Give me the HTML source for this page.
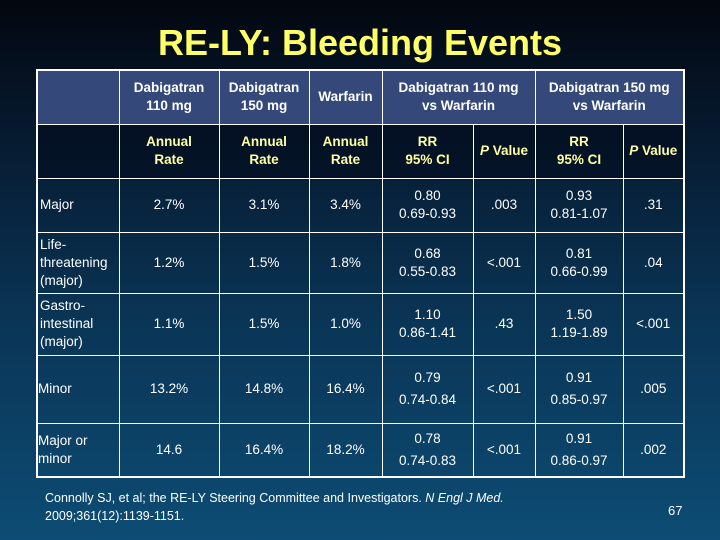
<!DOCTYPE html>
<html><head><meta charset="utf-8">
<style>
html,body{margin:0;padding:0}
body{width:720px;height:540px;overflow:hidden;position:relative;font-family:"Liberation Sans",sans-serif;
background:linear-gradient(180deg,#03070f 0%,#061a30 25%,#0a3556 60%,#0d4c74 100%);}
#title{position:absolute;left:0;width:720px;top:22px;text-align:center;color:#ffff66;font-weight:bold;font-size:36px;margin:0}
table{position:absolute;left:36px;top:69px;border-collapse:collapse;border:2px solid #fff;table-layout:fixed;color:#fff}
td{border:1.5px solid #fff;text-align:center;vertical-align:middle;font-size:13.5px;line-height:18px;padding:0;overflow:hidden}
tr.h1 td{background:#34497a;font-weight:bold;font-size:13.5px}
tr.h2 td{color:#ffffa0;font-weight:bold;font-size:13.5px;background:rgba(4,12,28,0.6)}
td.lab{text-align:left;padding-left:2px}
.foot{position:absolute;left:45px;top:489px;color:#fff;font-size:12.5px;line-height:18px}
.pg{position:absolute;left:668px;top:503px;color:#fff;font-size:13px}
</style></head><body>
<h1 id="title">RE-LY: Bleeding Events</h1>
<table>
<colgroup><col style="width:82px"><col style="width:100px"><col style="width:90px"><col style="width:73px"><col style="width:91px"><col style="width:62px"><col style="width:88px"><col style="width:61px"></colgroup>
<tr class="h1" style="height:54px">
<td></td><td>Dabigatran<br>110 mg</td><td>Dabigatran<br>150 mg</td><td>Warfarin</td><td colspan="2">Dabigatran 110 mg<br>vs Warfarin</td><td colspan="2">Dabigatran 150 mg<br>vs Warfarin</td></tr>
<tr class="h2" style="height:54px">
<td></td><td>Annual<br>Rate</td><td>Annual<br>Rate</td><td>Annual<br>Rate</td><td>RR<br>95% CI</td><td><i>P</i> Value</td><td>RR<br>95% CI</td><td><i>P</i> Value</td></tr>
<tr style="height:54px">
<td class="lab">Major</td><td>2.7%</td><td>3.1%</td><td>3.4%</td><td>0.80<br>0.69-0.93</td><td>.003</td><td>0.93<br>0.81-1.07</td><td>.31</td></tr>
<tr style="height:61px">
<td class="lab">Life-<br>threatening<br>(major)</td><td>1.2%</td><td>1.5%</td><td>1.8%</td><td>0.68<br>0.55-0.83</td><td>&lt;.001</td><td>0.81<br>0.66-0.99</td><td>.04</td></tr>
<tr style="height:62px">
<td class="lab">Gastro-<br>intestinal<br>(major)</td><td>1.1%</td><td>1.5%</td><td>1.0%</td><td>1.10<br>0.86-1.41</td><td>.43</td><td>1.50<br>1.19-1.89</td><td>&lt;.001</td></tr>
<tr style="height:68px">
<td class="lab" style="padding-left:0">Minor</td><td>13.2%</td><td>14.8%</td><td>16.4%</td><td style="line-height:22px">0.79<br>0.74-0.84</td><td>&lt;.001</td><td style="line-height:22px">0.91<br>0.85-0.97</td><td>.005</td></tr>
<tr style="height:54px">
<td class="lab" style="padding-left:0">Major or<br>minor</td><td>14.6</td><td>16.4%</td><td>18.2%</td><td style="line-height:22px">0.78<br>0.74-0.83</td><td>&lt;.001</td><td style="line-height:22px">0.91<br>0.86-0.97</td><td>.002</td></tr>
</table>
<div class="foot">Connolly SJ, et al; the RE-LY Steering Committee and Investigators. <i>N Engl J Med.</i><br>2009;361(12):1139-1151.</div>
<div class="pg">67</div>
</body></html>
